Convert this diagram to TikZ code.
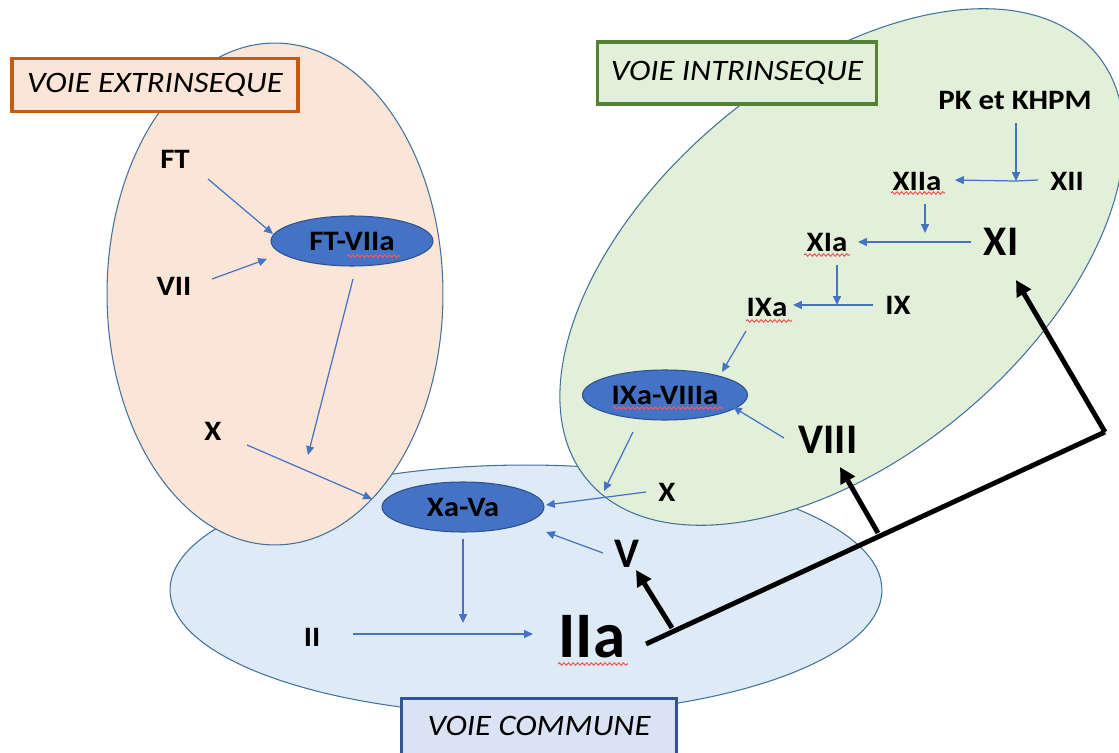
\documentclass[tikz,border=0pt]{standalone}
\usepackage{fontspec}
\setmainfont{Carlito}
\newfontfamily\lblfont[FakeStretch=1.1]{Carlito}
\usetikzlibrary{arrows.meta,decorations.pathmorphing,shapes.geometric}
\definecolor{peach}{HTML}{FBE5D6}
\definecolor{lgreen}{HTML}{E2F0D9}
\definecolor{lblue}{HTML}{DEEBF7}
\definecolor{rimblue}{HTML}{41719C}
\definecolor{ellfill}{HTML}{4472C4}
\definecolor{ellline}{HTML}{2F528F}
\definecolor{arrblue}{HTML}{4472C4}
\definecolor{orangeb}{HTML}{C55A11}
\definecolor{greenb}{HTML}{548235}
\definecolor{blueb}{HTML}{2F5597}
\definecolor{commfill}{HTML}{DAE3F3}
\definecolor{spellred}{HTML}{EE5A5E}
\begin{document}
\begin{tikzpicture}[x=0.02cm,y=-0.02cm,
  zone/.style={draw=rimblue,line width=0.6pt},
  lbl/.style={font=\lblfont\fontsize{16}{19}\selectfont\bfseries,inner sep=0pt},
  biglbl/.style={font=\fontsize{24}{28}\selectfont\bfseries,inner sep=0pt},
  hugelbl/.style={font=\fontsize{37}{42}\selectfont\bfseries,inner sep=0pt},
  cplx/.style={ellipse,draw=ellline,line width=0.6pt,fill=ellfill,inner sep=0pt,font=\lblfont\fontsize{16}{19}\selectfont\bfseries},
  titlebox/.style={draw,line width=1.9pt,minimum height=1.05cm,inner sep=0pt,font=\lblfont\fontsize{16.9}{20}\selectfont\itshape},
  barrow/.style={draw=arrblue,line width=0.7pt,-{Triangle[length=5pt,width=4.5pt]}},
  bline/.style={draw=arrblue,line width=0.7pt},
  karrow/.style={draw=black,line width=2.8pt,-{Triangle[length=9pt,width=9pt]}},
  kline/.style={draw=black,line width=2.8pt,line join=miter},
  spell/.style={draw=spellred,line width=0.6pt,decorate,decoration={snake,segment length=2.6pt,amplitude=0.7pt}}
]
\useasboundingbox (0,0) rectangle (1119,753);
% zones
\path[zone,fill=lblue] (526,590) ellipse [x radius=7.12cm,y radius=2.5cm];
\path[zone,fill=peach] (275,294) ellipse [x radius=3.36cm,y radius=5.02cm];
\path[zone,fill=lgreen,rotate around={40:(842,267)}] (842,267) ellipse [x radius=6.64cm,y radius=3.8cm];

% title boxes
\node[titlebox,draw=orangeb,fill=peach,minimum width=5.72cm] (ext) at (155,85) {VOIE EXTRINSEQUE};
\node[titlebox,draw=greenb,fill=lgreen,minimum width=5.58cm,minimum height=1.24cm] (int) at (737,73) {VOIE INTRINSEQUE};
\node[titlebox,draw=blueb,fill=commfill,minimum width=5.5cm,minimum height=1.4cm,anchor=north] (com) at (539,697) {\raisebox{0.3cm}{VOIE COMMUNE}};

% extrinsic
\node[lbl] (FT) at (175,159) {FT};
\node[lbl] (VII) at (174,286) {VII};
\node[cplx,minimum width=3.24cm,minimum height=1.0cm] (FTVIIa) at (352,241) {FT-VIIa};
\node[lbl] (Xl) at (213,431) {X};

% common
\node[cplx,minimum width=3.24cm,minimum height=1.0cm] (XaVa) at (463,507) {Xa-Va};
\node[lbl] (Xr) at (667,492) {X};
\node[biglbl] (V) at (627,554) {V};
\node[lbl] (II) at (312,637) {II};
\node[hugelbl] (IIa) at (592,637) {IIa};

% intrinsic
\node[lbl] (PK) at (1015,100) {PK et KHPM};
\node[lbl] (XII) at (1067,181) {XII};
\node[lbl] (XIIa) at (917,181) {XIIa};
\node[biglbl] (XI) at (1001,242) {XI};
\node[lbl] (XIa) at (827,242) {XIa};
\node[lbl] (IX) at (898,305) {IX};
\node[lbl] (IXa) at (767,307) {IXa};
\node[cplx,minimum width=3.3cm,minimum height=1.0cm] (IXaVIIIa) at (665,395) {IXa-VIIIa};
\node[biglbl] (VIII) at (828,440) {VIII};

% spell-check underlines
\draw[spell] (347,256) -- (400,256);
\draw[spell] (891,193) -- (945,193);
\draw[spell] (804,255) -- (850,255);
\draw[spell] (746,321) -- (792,321);
\draw[spell] (613,408) -- (723,408);
\draw[spell] (558,664) -- (628,664);

% blue connectors (extrinsic)
\draw[barrow] ([shift={(33,20)}]FT.center) -- ([shift={(-79,-7)}]FTVIIa.center);
\draw[barrow] ([shift={(38,-7)}]VII.center) -- ([shift={(-85,18)}]FTVIIa.center);
\draw[barrow] ([shift={(1,38)}]FTVIIa.center) -- ([shift={(95,24)}]Xl.center);
\draw[barrow] ([shift={(34,14)}]Xl.center) -- ([shift={(-91,-8)}]XaVa.center);

% blue connectors (common)
\draw[barrow] ([shift={(-21,0)}]Xr.center) -- ([shift={(83,-2)}]XaVa.center);
\draw[barrow] ([shift={(-24,-1)}]V.center) -- ([shift={(83,25)}]XaVa.center);
\draw[barrow] ([shift={(0,32)}]XaVa.center) -- ([shift={(0,116)}]XaVa.center);
\draw[barrow] ([shift={(41,-3)}]II.center) -- ([shift={(-59,-3)}]IIa.center);

% blue connectors (intrinsic)
\coordinate (j1) at (1016,181);
\draw[barrow] ([shift={(1,23)}]PK.center) -- (j1);
\draw[bline] ([shift={(-29,-1)}]XII.center) -- (j1);
\draw[barrow] (j1) -- ([shift={(38,-1)}]XIIa.center);
\coordinate (j2) at (925,242);
\draw[barrow] ([shift={(8,23)}]XIIa.center) -- ([shift={(0,-9)}]j2);
\draw[barrow] ([shift={(-30,0)}]XI.center) -- ([shift={(31,0)}]XIa.center);
\coordinate (j3) at (837,305);
\draw[barrow] ([shift={(10,23)}]XIa.center) -- (j3);
\draw[bline] ([shift={(-25,0)}]IX.center) -- (j3);
\draw[barrow] (j3) -- ([shift={(26,-2)}]IXa.center);
\draw[barrow] ([shift={(-21,24)}]IXa.center) -- ([shift={(57,-23)}]IXaVIIIa.center);
\draw[barrow] ([shift={(-44,-2)}]VIII.center) -- ([shift={(68,12)}]IXaVIIIa.center);
\draw[barrow] ([shift={(-32,37)}]IXaVIIIa.center) -- ([shift={(-63,-1)}]Xr.center);

% black thick connectors
\coordinate (k0) at (646,644);
\coordinate (kc) at (1105,432);
\coordinate (bV) at (672,628);
\coordinate (bVIII) at (878,533);
\draw[kline] (k0) -- (kc);
\draw[karrow] (kc) -- ([shift={(15,38)}]XI.center);
\draw[karrow] (bV) -- ([shift={(9,16)}]V.center);
\draw[karrow] (bVIII) -- ([shift={(12,27)}]VIII.center);
\end{tikzpicture}
\end{document}
